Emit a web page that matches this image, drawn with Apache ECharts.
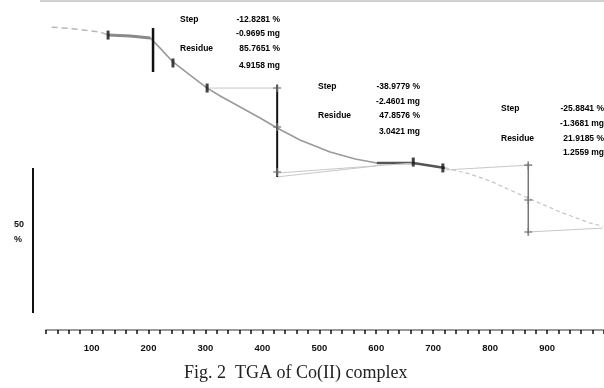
<!DOCTYPE html>
<html><head><meta charset="utf-8">
<script src="https://cdn.jsdelivr.net/npm/echarts@6/dist/echarts.min.js"></script>
<style>html,body{margin:0;padding:0;background:#fff}#c{width:604px;height:388px}</style>
</head><body><div id="c"></div>
<script>
// TGA curve: temperature (°C) and weight (%)
const curveTemps   = [30, 71, 115, 129, 168, 203, 220, 243, 273, 303, 326, 361, 396, 426, 466, 519, 563, 601, 665, 721, 765, 800, 835, 870, 923, 975, 998];
const curveWeights = [101.9, 101.2, 100.0, 98.8, 98.4, 97.7, 93.8, 88.3, 83.2, 78.1, 75.0, 70.7, 66.4, 62.5, 57.8, 53.1, 50.4, 48.8, 48.8, 46.9, 44.5, 41.8, 38.3, 34.8, 29.7, 25.4, 24.2];

// step evaluation bars (temperature, top weight, bottom weight)
const stepTemps   = [208, 426, 867];
const stepTops    = [101.6, 79.3, 48.8];
const stepBottoms = [84.4, 43.4, 21.1];

// step limit markers on the curve
const markerTemps   = [129, 243, 303, 665, 717];
const markerWeights = [98.8, 87.9, 78.1, 49.2, 46.9];

// cross markers on the step bars
const crossTemps   = [426, 426, 426, 867, 867, 867];
const crossWeights = [78.1, 62.9, 45.3, 48.0, 34.4, 21.9];

// baseline / tangent lines
const tangents = [
  {t: [303, 426], w: [78.1, 78.1]},
  {t: [426, 665], w: [44.9, 48.8]},
  {t: [426, 601], w: [43.4, 47.7]},
  {t: [721, 867], w: [46.1, 48.0]},
  {t: [867, 998], w: [21.9, 23.4]}
];

// step result annotations
const stepLabels    = ['Step', 'Residue'];
const stepValues    = ['-12.8281 %', '-38.9779 %', '-25.8841 %'];
const stepMasses    = ['-0.9695 mg', '-2.4601 mg', '-1.3681 mg'];
const residueValues = ['85.7651 %', '47.8576 %', '21.9185 %'];
const residueMasses = ['4.9158 mg', '3.0421 mg', '1.2559 mg'];

const xTickLabels = [100, 200, 300, 400, 500, 600, 700, 800, 900];
const scaleLabel = '50\n%';
const caption = 'Fig. 2  TGA of Co(II) complex';

const pairs = (a, b) => a.map((v, i) => [v, b[i]]);
const curve = pairs(curveTemps, curveWeights);

const series = [];
series.push({type: 'line', data: curve.slice(0, 4), symbol: 'none', lineStyle: {color: '#b8b8b8', width: 1.5, type: [6, 4]}});
series.push({type: 'line', data: curve.slice(3, 20), symbol: 'none', lineStyle: {color: '#9a9a9a', width: 1.6}});
series.push({type: 'line', data: curve.slice(3, 6), symbol: 'none', lineStyle: {color: '#8a8a8a', width: 3}});
series.push({type: 'line', data: curve.slice(17, 20), symbol: 'none', lineStyle: {color: '#555', width: 2.5}});
series.push({type: 'line', data: curve.slice(19), symbol: 'none', lineStyle: {color: '#c4c4c4', width: 1.2, type: [4, 3]}});
tangents.forEach(tg => series.push({type: 'line', data: pairs(tg.t, tg.w), symbol: 'none', lineStyle: {color: '#c8c8c8', width: 1}}));
const barColors = ['#111', '#111', '#777'];
const barWidths = [2.5, 2, 1.5];
stepTemps.forEach((t, i) => series.push({type: 'line', data: [[t, stepTops[i]], [t, stepBottoms[i]]], symbol: 'none', lineStyle: {color: barColors[i], width: barWidths[i]}}));
series.push({type: 'scatter', data: pairs(crossTemps, crossWeights), symbol: 'path://M4,0H6V4H10V6H6V10H4V6H0V4H4Z', symbolSize: 8, itemStyle: {color: '#777'}});
series.push({type: 'scatter', data: pairs(markerTemps, markerWeights), symbol: 'rect', symbolSize: [3, 9], itemStyle: {color: '#111'}});
series.forEach(s => { s.silent = true; s.animation = false; s.z = 2; });

// annotation text blocks (pixel layout)
const blockPos = [{lx: 180, rx: 280, y: [20, 34, 49, 66]}, {lx: 318, rx: 420, y: [87, 102, 116, 132]}, {lx: 501, rx: 604, y: [109, 124, 139, 153]}];
const txtStyle = {fontFamily: 'Liberation Sans', fontWeight: 'bold', fontSize: 8.5, fill: '#000'};
const graphic = [];
blockPos.forEach((b, i) => {
  graphic.push({type: 'text', left: b.lx, top: b.y[0] - 5, style: Object.assign({text: stepLabels[0]}, txtStyle)});
  graphic.push({type: 'text', left: b.lx, top: b.y[2] - 5, style: Object.assign({text: stepLabels[1]}, txtStyle)});
  [stepValues[i], stepMasses[i], residueValues[i], residueMasses[i]].forEach((s, k) => {
    graphic.push({type: 'text', right: 604 - b.rx, top: b.y[k] - 5, style: Object.assign({text: s, textAlign: 'right'}, txtStyle)});
  });
});
graphic.push({type: 'line', shape: {x1: 33, y1: 168, x2: 33, y2: 313}, style: {stroke: '#111', lineWidth: 2}});
graphic.push({type: 'text', left: 14, top: 217, style: {text: scaleLabel, fontFamily: 'Liberation Sans', fontWeight: 'bold', fontSize: 9, lineHeight: 15, fill: '#111'}});
graphic.push({type: 'line', shape: {x1: 40, y1: 1, x2: 604, y2: 1}, style: {stroke: '#d0d0d0', lineWidth: 2}});
graphic.push({type: 'text', left: 184, top: 364, style: {text: caption, fontFamily: 'Liberation Serif', fontSize: 18, fill: '#222'}});

const chart = echarts.init(document.getElementById('c'), null, {renderer: 'canvas'});
chart.setOption({
  animation: false,
  backgroundColor: '#fff',
  grid: {left: 46, right: 0, top: 0, bottom: 58, outerBoundsMode: 'none'},
  xAxis: {
    type: 'value', min: 20, max: 1000, interval: 20,
    axisLine: {onZero: false, lineStyle: {color: '#9a9a9a', width: 2}},
    axisTick: {length: 4, lineStyle: {color: '#111', width: 1.5}},
    axisLabel: {margin: 13, color: '#111', fontFamily: 'Liberation Sans', fontWeight: 'bold', fontSize: 9.5,
      formatter: v => xTickLabels.indexOf(v) >= 0 ? String(v) : ''},
    splitLine: {show: false}
  },
  yAxis: {type: 'value', min: -16.4, max: 112.5, show: false, splitLine: {show: false}},
  series: series,
  graphic: graphic
});
</script>
</body></html>
